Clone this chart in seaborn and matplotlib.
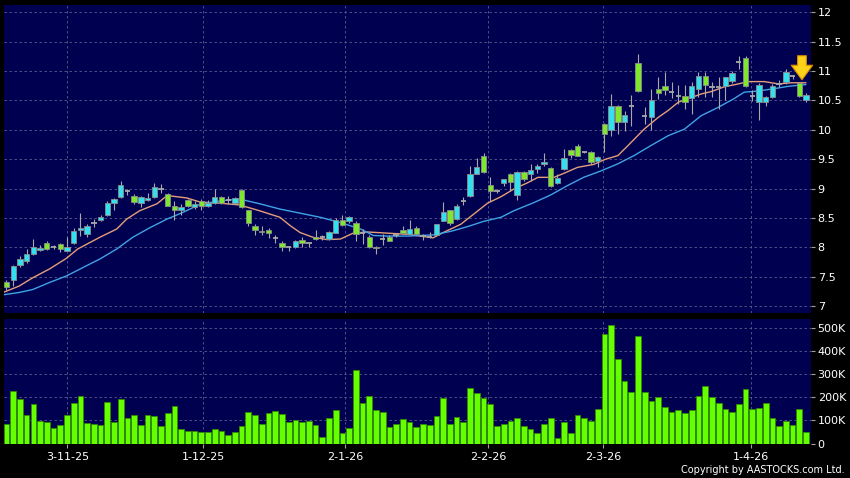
import numpy as np
import pandas as pd
import matplotlib.pyplot as plt
import seaborn as sns

# OHLC values (HKD), one per trading day
opens = [7.40, 7.44, 7.70, 7.76, 7.88, 7.96, 8.08, 8.00, 8.06, 7.94,
         8.08, 8.29, 8.23, 8.42, 8.47, 8.55, 8.75, 8.85, 8.95, 8.87,
         8.76, 8.81, 8.86, 9.00, 8.91, 8.71, 8.64, 8.80, 8.68, 8.79,
         8.71, 8.76, 8.86, 8.80, 8.76, 8.98, 8.63, 8.36, 8.28, 8.30,
         8.15, 8.07, 8.01, 8.01, 8.12, 8.08, 8.18, 8.17, 8.14, 8.25,
         8.46, 8.44, 8.41, 8.25, 8.18, 8.01, 8.14, 8.18, 8.20, 8.29,
         8.23, 8.33, 8.19, 8.18, 8.21, 8.45, 8.63, 8.48, 8.79, 8.88,
         9.25, 9.55, 9.06, 8.96, 9.10, 9.25, 8.89, 9.28, 9.25, 9.33,
         9.42, 9.35, 9.09, 9.33, 9.66, 9.72, 9.62, 9.62, 9.46, 10.10,
         10.00, 10.41, 10.14, 10.40, 11.14, 10.24, 10.21, 10.69, 10.75, 10.65,
         10.58, 10.58, 10.54, 10.69, 10.91, 10.72, 10.72, 10.74, 10.83, 11.15,
         11.22, 10.58, 10.47, 10.48, 10.56, 10.78, 10.81, 10.91, 10.79, 10.50]

closes = [7.32, 7.68, 7.80, 7.89, 8.00, 7.98, 7.97, 8.00, 7.97, 8.01,
          8.28, 8.32, 8.36, 8.42, 8.51, 8.75, 8.82, 9.06, 8.95, 8.77,
          8.85, 8.84, 9.03, 9.00, 8.71, 8.63, 8.69, 8.71, 8.74, 8.70,
          8.76, 8.85, 8.76, 8.80, 8.83, 8.68, 8.42, 8.29, 8.26, 8.24,
          8.15, 8.01, 8.01, 8.10, 8.08, 8.08, 8.14, 8.17, 8.26, 8.47,
          8.38, 8.52, 8.22, 8.25, 8.01, 7.98, 8.14, 8.11, 8.20, 8.25,
          8.31, 8.22, 8.19, 8.18, 8.39, 8.60, 8.41, 8.71, 8.79, 9.25,
          9.37, 9.28, 8.95, 8.96, 9.16, 9.11, 9.28, 9.16, 9.32, 9.39,
          9.45, 9.05, 9.18, 9.52, 9.57, 9.56, 9.62, 9.45, 9.54, 9.93,
          10.41, 10.13, 10.25, 10.40, 10.66, 10.24, 10.51, 10.63, 10.68, 10.65,
          10.58, 10.48, 10.74, 10.91, 10.76, 10.72, 10.72, 10.89, 10.97, 11.15,
          10.75, 10.58, 10.77, 10.56, 10.75, 10.78, 10.98, 10.91, 10.58, 10.60]

highs = [7.45, 7.69, 7.85, 7.97, 8.14, 8.03, 8.10, 8.04, 8.08, 8.18,
         8.32, 8.59, 8.40, 8.48, 8.55, 8.78, 8.84, 9.13, 9.00, 8.91,
         8.88, 8.92, 9.09, 9.08, 8.93, 8.79, 8.73, 8.82, 8.78, 8.82,
         8.80, 9.00, 8.88, 8.87, 8.85, 8.99, 8.64, 8.40, 8.37, 8.33,
         8.20, 8.10, 8.02, 8.12, 8.17, 8.08, 8.29, 8.20, 8.28, 8.50,
         8.55, 8.54, 8.44, 8.31, 8.20, 8.02, 8.22, 8.20, 8.23, 8.36,
         8.46, 8.37, 8.23, 8.26, 8.40, 8.77, 8.64, 8.73, 8.85, 9.38,
         9.52, 9.60, 9.20, 9.00, 9.17, 9.27, 9.29, 9.29, 9.42, 9.42,
         9.61, 9.37, 9.25, 9.68, 9.68, 9.76, 9.63, 9.64, 9.55, 10.12,
         10.61, 10.42, 10.32, 10.59, 11.29, 10.38, 10.69, 10.90, 10.98, 10.82,
         10.77, 10.77, 10.82, 10.99, 10.99, 10.82, 10.90, 10.90, 11.00, 11.26,
         11.26, 10.68, 10.80, 10.58, 10.78, 10.85, 11.03, 10.94, 10.81, 10.62]

lows = [7.28, 7.34, 7.66, 7.74, 7.86, 7.94, 7.95, 7.97, 7.92, 7.93,
        8.05, 8.19, 8.17, 8.35, 8.45, 8.53, 8.64, 8.84, 8.89, 8.74,
        8.69, 8.79, 8.83, 8.93, 8.70, 8.47, 8.55, 8.68, 8.65, 8.64,
        8.68, 8.74, 8.74, 8.73, 8.74, 8.66, 8.36, 8.20, 8.20, 8.15,
        8.08, 7.93, 7.93, 7.99, 8.01, 8.01, 8.12, 8.12, 8.12, 8.24,
        8.36, 8.41, 8.10, 8.05, 7.98, 7.88, 8.04, 8.10, 8.17, 8.22,
        8.22, 8.20, 8.12, 8.16, 8.19, 8.44, 8.38, 8.46, 8.72, 8.86,
        9.24, 9.26, 8.79, 8.93, 9.05, 8.96, 8.80, 9.12, 9.13, 9.27,
        9.38, 9.03, 9.07, 9.32, 9.52, 9.55, 9.60, 9.42, 9.37, 9.62,
        9.90, 9.93, 9.98, 10.07, 10.64, 10.10, 10.00, 10.53, 10.59, 10.54,
        10.44, 10.35, 10.27, 10.56, 10.56, 10.55, 10.36, 10.50, 10.80, 11.03,
        10.73, 10.49, 10.16, 10.40, 10.54, 10.72, 10.78, 10.86, 10.56, 10.47]

# volume in thousands of shares
volumes = [86, 226, 192, 125, 169, 97, 91, 65, 79, 122,
           173, 205, 89, 84, 79, 177, 94, 192, 112, 121,
           79, 125, 117, 75, 131, 161, 63, 56, 53, 48,
           49, 61, 53, 36, 50, 75, 138, 125, 82, 133,
           141, 127, 92, 101, 91, 97, 79, 29, 112, 146,
           46, 68, 317, 173, 207, 144, 138, 72, 86, 105,
           94, 72, 85, 79, 118, 195, 86, 115, 92, 239,
           216, 197, 170, 75, 86, 98, 112, 75, 61, 45,
           84, 112, 22, 94, 45, 122, 112, 97, 148, 471,
           512, 365, 271, 223, 465, 220, 184, 200, 157, 137,
           144, 131, 144, 207, 249, 202, 173, 147, 138, 169,
           233, 150, 151, 174, 112, 76, 97, 79, 147, 50]

# moving averages (day index, value)
ma10_idx = [-0.5, 1.9, 3.9, 6.4, 8.9, 10.6, 13.9, 16.4, 17.9, 19.8,
            22.4, 23.9, 26.8, 28.8, 31.8, 34.7, 37.7, 40.7, 42.2, 43.7,
            45.6, 47.7, 49.7, 51.6, 53.7, 56.7, 59.7, 63.5, 65.0, 67.6,
            69.5, 71.6, 73.6, 75.5, 77.6, 79.1, 81.5, 83.0, 85.0, 87.4,
            89.2, 91.0, 92.5, 94.9, 97.0, 98.5, 100.0, 101.5, 103.4, 104.9,
            106.8, 108.9, 110.4, 112.8, 114.9, 116.8, 119.0]
ma10 = [7.23, 7.34, 7.48, 7.63, 7.81, 7.97, 8.17, 8.31, 8.48, 8.62,
        8.74, 8.88, 8.84, 8.77, 8.75, 8.72, 8.62, 8.51, 8.37, 8.25,
        8.17, 8.13, 8.14, 8.24, 8.26, 8.24, 8.22, 8.16, 8.25, 8.39,
        8.56, 8.75, 8.86, 8.99, 9.10, 9.19, 9.19, 9.26, 9.36, 9.41,
        9.50, 9.56, 9.73, 10.01, 10.21, 10.33, 10.47, 10.53, 10.61, 10.65,
        10.73, 10.78, 10.82, 10.82, 10.78, 10.80, 10.80]

ma20_idx = [-0.5, 1.9, 3.9, 6.4, 8.9, 11.3, 13.9, 16.4, 18.8, 21.3,
            23.9, 26.2, 28.8, 31.8, 34.7, 37.7, 40.7, 43.7, 46.7, 49.7,
            52.7, 54.6, 56.7, 59.7, 63.5, 66.1, 68.6, 71.0, 73.6, 75.5,
            78.5, 81.0, 83.5, 85.9, 88.5, 91.0, 93.4, 95.9, 98.5, 100.9,
            103.4, 105.9, 108.3, 109.8, 111.9, 114.3, 116.4, 119.0]
ma20 = [7.19, 7.23, 7.28, 7.40, 7.51, 7.65, 7.80, 7.97, 8.17, 8.33,
        8.48, 8.59, 8.73, 8.79, 8.82, 8.74, 8.65, 8.58, 8.51, 8.42,
        8.31, 8.20, 8.19, 8.19, 8.21, 8.27, 8.35, 8.44, 8.51, 8.62,
        8.76, 8.89, 9.05, 9.19, 9.30, 9.42, 9.56, 9.73, 9.90, 10.01,
        10.24, 10.38, 10.53, 10.64, 10.66, 10.70, 10.74, 10.77]

date_labels = ['3-11-25', '1-12-25', '2-1-26', '2-2-26', '2-3-26', '1-4-26']
date_pos = [9.05, 29.3, 50.4, 71.7, 88.75, 110.8]
price_ticks = [7, 7.5, 8, 8.5, 9, 9.5, 10, 10.5, 11, 11.5, 12]
vol_ticks = [0, 100, 200, 300, 400, 500]

navy = '#000050'
grid_c = '#5c5c8e'
up_c = '#35e0ee'
down_c = '#7fe82e'
flat_c = '#a8a8a8'

sns.set_theme(style='dark')
plt.rcParams['font.family'] = ['DejaVu Sans']

fig = plt.figure(figsize=(8.5, 4.78), dpi=100, facecolor='black')
ax = fig.add_axes([4 / 850, 1 - 312.5 / 478, 806.7 / 850, 307.5 / 478])
axv = fig.add_axes([4 / 850, 1 - 443.5 / 478, 806.7 / 850, 124.5 / 478])

idx = np.arange(len(opens))
df = pd.DataFrame({'o': opens, 'c': closes, 'h': highs, 'l': lows, 'v': volumes}, index=idx)

# candles
ax.vlines(df.index, df['l'], df['h'], color=flat_c, lw=0.8, zorder=3)
for i, r in df.iterrows():
    if r['c'] > r['o']:
        col = up_c
    elif r['c'] < r['o']:
        col = down_c
    else:
        ax.hlines(r['o'], i - 0.4, i + 0.4, color=flat_c, lw=1.3, zorder=4)
        continue
    ax.bar(i, abs(r['c'] - r['o']), bottom=min(r['o'], r['c']), width=0.8,
           color=col, edgecolor='#8c8c8c', linewidth=0.6, zorder=4)

sns.lineplot(x=ma10_idx, y=ma10, ax=ax, color='#e59f78', lw=1.0, zorder=2)
sns.lineplot(x=ma20_idx, y=ma20, ax=ax, color='#3fa3e4', lw=1.0, zorder=2)

# latest-day marker
ax.annotate('', xy=(118.4, 10.85), xytext=(118.4, 11.26),
            arrowprops=dict(arrowstyle='simple,head_width=1.1,head_length=0.75,tail_width=0.45',
                            fc='#ffd21a', ec='#d98a00', lw=0.8, mutation_scale=14,
                            shrinkA=0, shrinkB=0),
            zorder=6)

# volume
sns.barplot(x=idx, y=volumes, native_scale=True, width=0.85, color='#66ff00',
            saturation=1, edgecolor='#2f8a00', linewidth=0.6, errorbar=None, ax=axv, zorder=3)

for a in (ax, axv):
    a.set_facecolor(navy)
    for s in a.spines.values():
        s.set_visible(False)
    a.set_xlim(-0.37, 119.7)
    a.set_xticks(date_pos)
    a.yaxis.tick_right()
    a.tick_params(axis='y', colors='#a0a0a0', labelcolor='white', labelsize=8,
                  length=3, width=0.8, pad=2, right=True, left=False)
    a.grid(True, color=grid_c, lw=0.6, ls=(0, (3, 3)))
    a.set_axisbelow(True)
    a.set_xlabel('')
    a.set_ylabel('')

ax.set_ylim(6.889, 12.124)
ax.set_yticks(price_ticks)
ax.set_yticklabels([f'{v:g}' for v in price_ticks])
ax.tick_params(axis='x', length=0, labelbottom=False)

axv.set_ylim(0, 537)
axv.set_yticks(vol_ticks)
axv.set_yticklabels(['0' if v == 0 else f'{v}K' for v in vol_ticks])
axv.set_xticklabels(date_labels)
axv.tick_params(axis='x', colors='#a0a0a0', labelcolor='white', labelsize=8,
                length=3, width=0.8, pad=3, bottom=True)

fig.text(845 / 850, 1 - 470 / 478, 'Copyright by AASTOCKS.com Ltd.', color='white',
         fontsize=7, ha='right', va='center')

plt.savefig('out.png', dpi=100, facecolor='black')
